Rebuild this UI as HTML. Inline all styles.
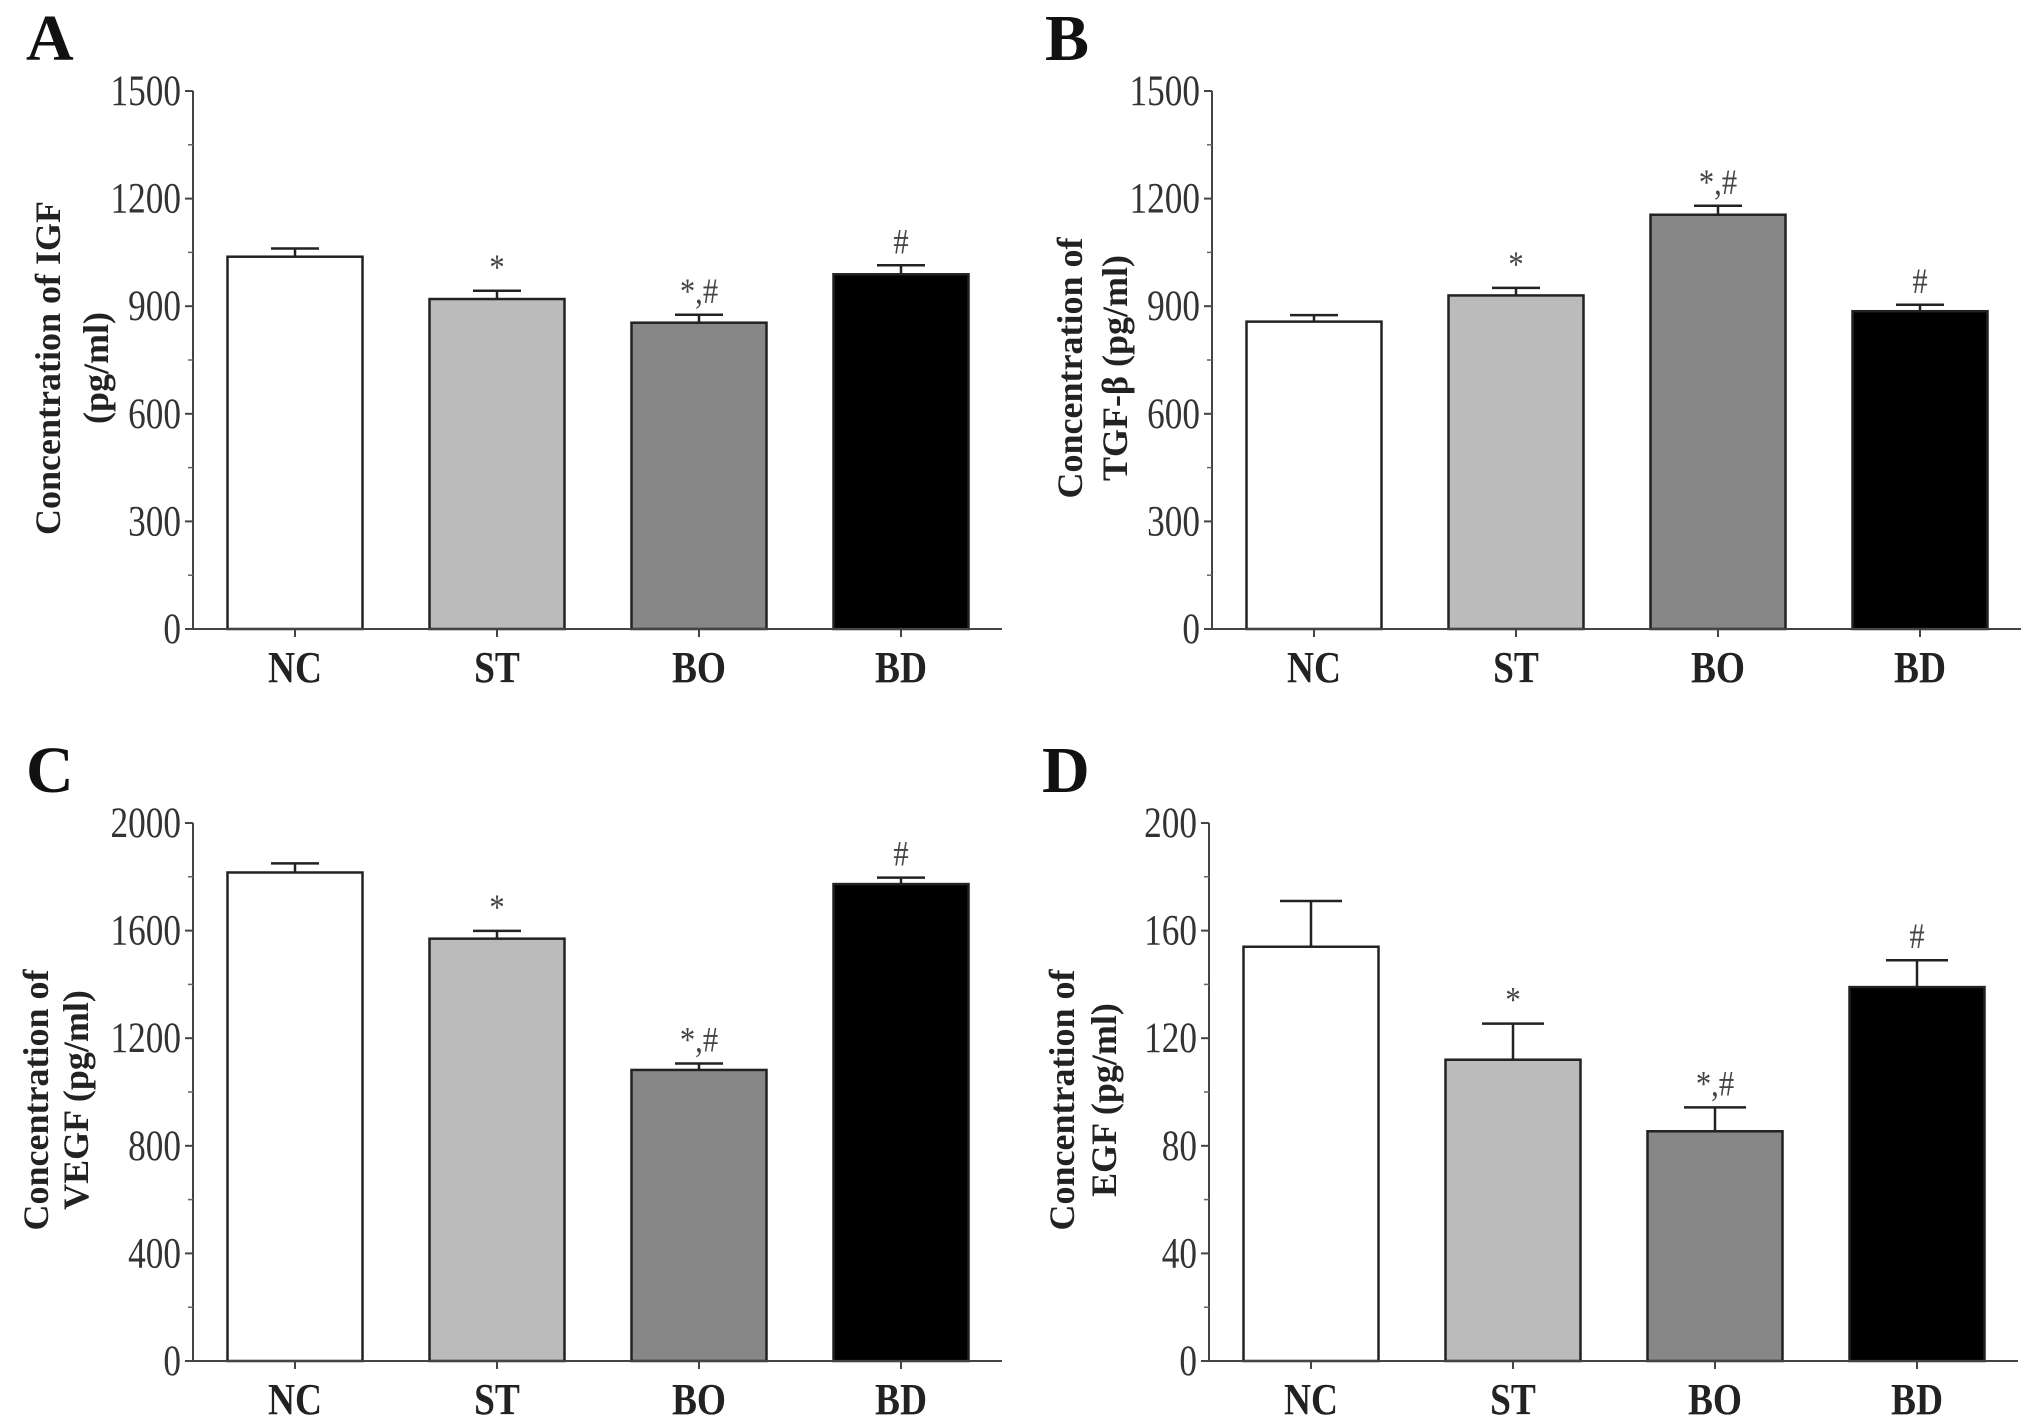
<!DOCTYPE html>
<html><head><meta charset="utf-8"><style>
html,body{margin:0;padding:0;background:#fff;}
svg{display:block;}
text{font-family:"Liberation Serif",serif;}
</style></head><body>
<svg id="fig" width="2031" height="1419" viewBox="0 0 2031 1419" xmlns="http://www.w3.org/2000/svg"></svg>
<script>
const categories = ["NC","ST","BO","BD"];
const igfValues = [1038, 920, 854, 989];
const igfErrors = [23, 23, 22, 25];
const igfMarks = ["", "*", "*,#", "#"];
const igfTicks = [0,300,600,900,1200,1500];
const tgfValues = [857, 930, 1155, 886];
const tgfErrors = [18, 21, 25, 18];
const tgfMarks = ["", "*", "*,#", "#"];
const tgfTicks = [0,300,600,900,1200,1500];
const vegfValues = [1816, 1570, 1082, 1773];
const vegfErrors = [34, 29, 24, 24];
const vegfMarks = ["", "*", "*,#", "#"];
const vegfTicks = [0,400,800,1200,1600,2000];
const egfValues = [154, 112, 85.4, 139];
const egfErrors = [17, 13.4, 8.9, 10];
const egfMarks = ["", "*", "*,#", "#"];
const egfTicks = [0,40,80,120,160,200];

const NS="http://www.w3.org/2000/svg";
const svg=document.getElementById('fig');
const fills=["#ffffff","#bbbbbb","#878787","#000000"];
function mk(tag,attrs,parent,txt){const e=document.createElementNS(NS,tag);for(const k in attrs)e.setAttribute(k,attrs[k]);if(txt!==undefined)e.textContent=txt;(parent||svg).appendChild(e);return e;}

function panel(id,letter,ox,oy,values,errors,marks,ticks,title1,title2,capW,tx1,tx2){
  const g=mk('g',{transform:`translate(${ox},${oy})`});
  
  
  const x0=193,xEnd=1002,yTop=91,yBot=629;
  const vmax=ticks[ticks.length-1];
  const y=v=>yBot-(v/vmax)*(yBot-yTop);
  const xc=i=>295+i*202;
  const bw=135;
  const L=mk('text',{x:26,y:60,'font-size':66,'font-weight':'bold',fill:'#111'},g,letter);
  
  
  values.forEach((v,i)=>{
    const top=y(v), et=y(v+errors[i]);
    const eb=mk('line',{x1:xc(i),x2:xc(i),y1:top,y2:et,stroke:'#222','stroke-width':2.5},g);
    
    
    const cap=mk('line',{x1:xc(i)-capW/2,x2:xc(i)+capW/2,y1:et,y2:et,stroke:'#222','stroke-width':2.5},g);
    
    
    const r=mk('rect',{x:xc(i)-bw/2,y:top,width:bw,height:yBot-top,fill:fills[i],stroke:'#222','stroke-width':2.5},g);
    
    
    if(marks[i]){
      const t=mk('text',{x:0,y:0,'font-size':36,'text-anchor':'middle',fill:'#444',transform:`translate(${xc(i)},${et-12}) scale(0.85,1)`},g,marks[i]);
      
      
    }
    const tk=mk('line',{x1:xc(i),x2:xc(i),y1:yBot,y2:yBot+8,stroke:'#444','stroke-width':2},g);
    
    
    const cl=mk('text',{x:0,y:0,'font-size':44,'font-weight':'bold','text-anchor':'middle',fill:'#222',transform:`translate(${xc(i)},${yBot+53}) scale(0.85,1)`},g,categories[i]);
    
    
  });
  const ya=mk('line',{x1:x0,x2:x0,y1:yTop,y2:yBot,stroke:'#444','stroke-width':2},g);
  
  
  const xa=mk('line',{x1:x0,x2:xEnd,y1:yBot,y2:yBot,stroke:'#444','stroke-width':2},g);
  
  
  ticks.forEach((t,i)=>{
    const tl=mk('line',{x1:x0-8,x2:x0,y1:y(t),y2:y(t),stroke:'#444','stroke-width':2},g);
    
    
    if(i<ticks.length-1){
      const m=(t+ticks[i+1])/2;
      const ml=mk('line',{x1:x0-5,x2:x0,y1:y(m),y2:y(m),stroke:'#666','stroke-width':1.5},g);
      
      
    }
    const lb=mk('text',{x:0,y:0,'font-size':43,'text-anchor':'end',fill:'#333',transform:`translate(${x0-12},${y(t)+14}) scale(0.82,1)`},g,String(t));
    
    
  });
  const cy=(yTop+yBot)/2+8;
  const t1=mk('text',{x:0,y:0,'font-size':36,'font-weight':'bold','text-anchor':'middle',fill:'#222',transform:`translate(${tx1},${cy}) rotate(-90)`},g,title1);
  
  
  const t2=mk('text',{x:0,y:0,'font-size':36,'font-weight':'bold','text-anchor':'middle',fill:'#222',transform:`translate(${tx2},${cy}) rotate(-90)`},g,title2);
  
  
}
panel('a','A',0,0,igfValues,igfErrors,igfMarks,igfTicks,'Concentration of IGF','(pg/ml)',48,60,108);
panel('b','B',1019,0,tgfValues,tgfErrors,tgfMarks,tgfTicks,'Concentration of','TGF-β (pg/ml)',48,63,108);
panel('c','C',0,732,vegfValues,vegfErrors,vegfMarks,vegfTicks,'Concentration of','VEGF (pg/ml)',48,48,88);
panel('d','D',1016,732,egfValues,egfErrors,egfMarks,egfTicks,'Concentration of','EGF (pg/ml)',62,58,100);
</script>
</body></html>
